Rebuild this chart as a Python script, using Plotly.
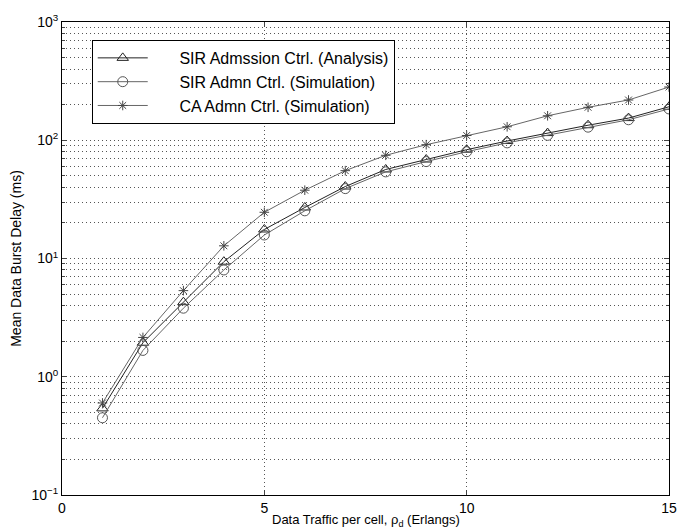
import plotly.graph_objects as go

traffic = [1, 2, 3, 4, 5, 6, 7, 8, 9, 10, 11, 12, 13, 14, 15]
sir_analysis = [0.54, 1.94, 4.27, 9.4, 17.6, 27.0, 40.6, 56.6, 68.7, 83.2, 98.5, 115, 134, 154, 192]
sir_sim = [0.45, 1.67, 3.8, 8.0, 15.8, 25.3, 39.0, 54.0, 66.0, 80.0, 95.0, 110, 129, 149, 184]
ca_sim = [0.60, 2.15, 5.35, 12.8, 24.6, 37.8, 55.3, 74.6, 91.7, 109.7, 130, 161, 190, 219, 282]

y_tickvals = [0.1, 1, 10, 100, 1000]
y_ticktext = ["10<sup>\u22121</sup>", "10<sup>0</sup>", "10<sup>1</sup>", "10<sup>2</sup>", "10<sup>3</sup>"]
x_tickvals = [0, 5, 10, 15]

pad = "\u00a0" * 6
names = [pad + "SIR Admssion Ctrl. (Analysis)",
         pad + "SIR Admn Ctrl. (Simulation)",
         pad + "CA Admn Ctrl. (Simulation)"]

fig = go.Figure()
fig.add_trace(go.Scatter(x=traffic, y=sir_analysis, mode="lines+markers", name=names[0],
                         line=dict(color="#222", width=1),
                         marker=dict(symbol="triangle-up-open", size=10, color="#222", line=dict(width=1))))
fig.add_trace(go.Scatter(x=traffic, y=sir_sim, mode="lines+markers", name=names[1],
                         line=dict(color="#666", width=1),
                         marker=dict(symbol="circle-open", size=10, color="#555", line=dict(width=1))))
fig.add_trace(go.Scatter(x=traffic, y=ca_sim, mode="lines+markers", name=names[2],
                         line=dict(color="#666", width=1),
                         marker=dict(symbol="asterisk-open", size=8, color="#444", line=dict(width=1))))

dot = "1px,3px"
grid = dict(showgrid=True, gridcolor="#555", griddash=dot, gridwidth=1)

fig.update_layout(
    width=689, height=531,
    margin=dict(l=62, r=20, t=17, b=36),
    paper_bgcolor="white", plot_bgcolor="white",
    font=dict(family="Liberation Sans, Arial, sans-serif", size=14, color="black"),
    showlegend=True,
    legend=dict(x=0.049, y=0.962, xanchor="left", yanchor="top",
                bgcolor="white", bordercolor="black", borderwidth=1,
                font=dict(size=16), tracegroupgap=0, itemwidth=50),
    xaxis=dict(range=[0, 15], tickvals=x_tickvals, ticks="inside", ticklen=5,
               showline=True, linecolor="black", linewidth=1, mirror="allticks",
               zeroline=False, **grid),
    yaxis=dict(type="log", range=[-1, 3], tickvals=y_tickvals, ticktext=y_ticktext,
               ticks="inside", ticklen=5,
               showline=True, linecolor="black", linewidth=1, mirror="allticks",
               title=dict(text="Mean Data Burst Delay (ms)", standoff=6, font=dict(size=14)),
               minor=dict(dtick="D1", ticks="inside", ticklen=3, showgrid=True,
                          gridcolor="#555", griddash=dot, gridwidth=1),
               **grid),
    annotations=[dict(text="Data Traffic per cell, \u03c1<sub>d</sub> (Erlangs)",
                      xref="paper", yref="paper", x=0.5, y=-0.054,
                      xanchor="center", yanchor="middle", showarrow=False,
                      font=dict(size=13))],
)

fig.write_html("out.html", config={"displayModeBar": False},
               post_script="document.body.style.margin='0';document.body.style.overflow='hidden';")
